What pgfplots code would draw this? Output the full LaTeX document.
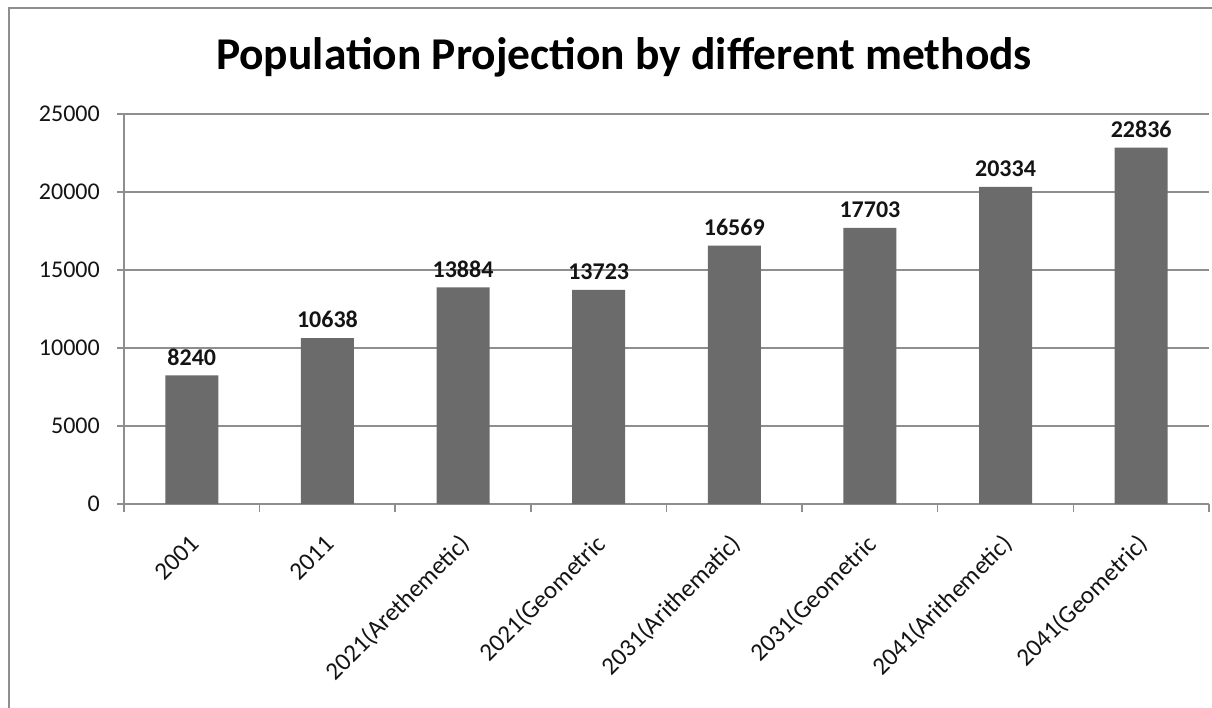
\documentclass[border=0pt]{standalone}
\usepackage{pgfplots}
\pgfplotsset{compat=1.18}
\usepackage{fontspec}
\setmainfont{Carlito}
\definecolor{barfill}{HTML}{6B6B6B}
\definecolor{gridc}{HTML}{8E8E8E}
\definecolor{txt}{HTML}{141414}
\begin{document}
\begin{tikzpicture}
\useasboundingbox (0pt,0pt) rectangle (1212pt,708pt);
\fill[white] (0pt,0pt) rectangle (1212pt,708pt);
% chart frame
\draw[gridc, line width=2pt] (9pt,-2pt) -- (9pt,700pt) -- (1214pt,700pt);
% title
\node[font=\fontsize{45.5}{52}\selectfont\bfseries, text=black, anchor=base, inner sep=0pt]
  at (624pt,638pt) {Population Projection by different methods};
\begin{axis}[
  at={(124pt,204pt)}, anchor=south west,
  scale only axis, width=1085pt, height=390pt,
  xmin=-0.5, xmax=7.5, ymin=0, ymax=25000,
  axis x line*=bottom, axis y line*=left,
  axis line style={-, gridc, line width=1.5pt},
  ytick={0,5000,...,25000},
  scaled y ticks=false,
  /pgf/number format/.cd, 1000 sep={}, assume math mode=true,
  /pgfplots/.cd,
  ymajorgrids, grid style={gridc, line width=1.5pt},
  tick align=outside,
  major tick length=7pt,
  y tick style={gridc, line width=1.5pt},
  major x tick style={draw=none},
  xtick={0,...,7},
  minor xtick={-0.5,0.5,...,7.5},
  minor tick length=8pt,
  minor x tick style={gridc, line width=1.5pt},
  xticklabels={2001,2011,2021(Arethemetic),2021(Geometric,2031(Arithematic),2031(Geometric,2041(Arithemetic),2041(Geometric)},
  ticklabel style={font=\fontsize{24}{28}\selectfont, text=txt},
  yticklabel style={anchor=east, inner sep=0pt, xshift=-17pt},
  % shifts act in the rotated frame of the label
  xticklabel style={font=\fontsize{25}{29}\selectfont, rotate=45, anchor=east, inner sep=0pt, xshift=-18.7pt, yshift=-22.6pt},
  ybar, bar width=53pt,
  nodes near coords,
  nodes near coords style={font=\fontsize{24}{28}\selectfont\bfseries, text=txt, anchor=south, inner sep=0pt, yshift=10pt},
]
\addplot[fill=barfill, draw=none] coordinates {
  (0,8240) (1,10638) (2,13884) (3,13723) (4,16569) (5,17703) (6,20334) (7,22836)
};
\end{axis}
\end{tikzpicture}
\end{document}
